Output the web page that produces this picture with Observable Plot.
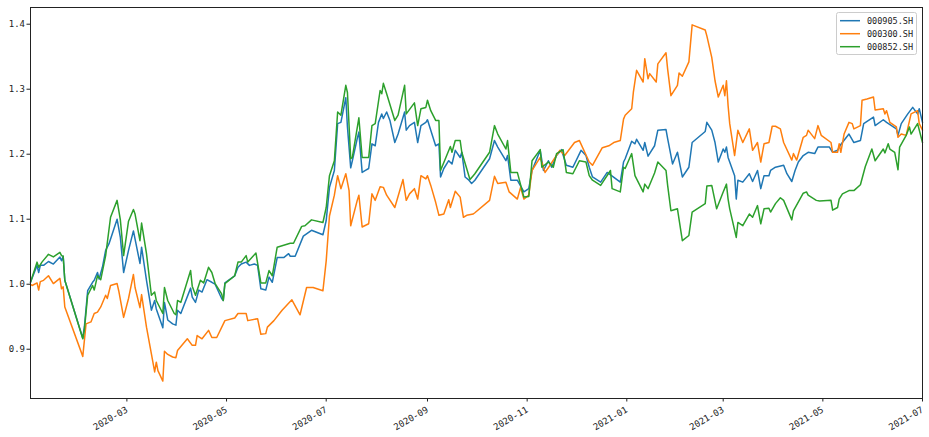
<!DOCTYPE html>
<html><head><meta charset="utf-8">
<script src="https://cdn.jsdelivr.net/npm/d3@7"></script>
<script src="https://cdn.jsdelivr.net/npm/@observablehq/plot@0.6"></script>
<style>
body{margin:0;background:#fff;}
#chart{position:relative;width:929px;height:437px;}
</style></head><body><div id="chart"></div>
<script>
const seriesNames = ["000905.SH", "000300.SH", "000852.SH"];
const seriesColors = ["#1f77b4", "#ff7f0e", "#2ca02c"];
const yTicks = [0.9, 1.0, 1.1, 1.2, 1.3, 1.4];
const xTickDates = ["2020-03-01","2020-05-01","2020-07-01","2020-09-01","2020-11-01","2021-01-01","2021-03-01","2021-05-01","2021-07-01"];
const xStart = "2020-01-02", xEnd = "2021-07-01";

const dates905 = [
"2020-01-02","2020-01-06","2020-01-07","2020-01-08","2020-01-10","2020-01-13","2020-01-16","2020-01-20","2020-01-21","2020-01-22","2020-01-23",
"2020-02-03","2020-02-04","2020-02-06","2020-02-09","2020-02-10","2020-02-12","2020-02-13","2020-02-15","2020-02-17","2020-02-19","2020-02-24","2020-02-26","2020-02-28",
"2020-03-02","2020-03-05","2020-03-09","2020-03-10","2020-03-13","2020-03-16","2020-03-18","2020-03-19","2020-03-23","2020-03-24","2020-03-26","2020-03-29","2020-03-31",
"2020-04-01","2020-04-03","2020-04-09","2020-04-10","2020-04-12","2020-04-14","2020-04-16","2020-04-19","2020-04-22","2020-04-24","2020-04-28","2020-04-29","2020-04-30",
"2020-05-06","2020-05-08","2020-05-10","2020-05-13","2020-05-15","2020-05-18","2020-05-20","2020-05-22","2020-05-25","2020-05-27","2020-05-29",
"2020-06-01","2020-06-05","2020-06-08","2020-06-09","2020-06-12","2020-06-17","2020-06-22","2020-06-29",
"2020-07-01","2020-07-03","2020-07-06","2020-07-08","2020-07-10","2020-07-13","2020-07-14","2020-07-16","2020-07-17","2020-07-20","2020-07-21","2020-07-23","2020-07-25","2020-07-27","2020-07-29","2020-07-31",
"2020-08-02","2020-08-04","2020-08-05","2020-08-07","2020-08-09","2020-08-12","2020-08-14","2020-08-18","2020-08-19","2020-08-21","2020-08-24","2020-08-26","2020-08-28","2020-08-31",
"2020-09-01","2020-09-03","2020-09-06","2020-09-08","2020-09-09","2020-09-11","2020-09-14","2020-09-16","2020-09-18","2020-09-21","2020-09-22","2020-09-24","2020-09-26","2020-09-28","2020-09-30",
"2020-10-09","2020-10-12","2020-10-14","2020-10-19","2020-10-20","2020-10-22","2020-10-26","2020-10-30",
"2020-11-02","2020-11-04","2020-11-09","2020-11-11","2020-11-14","2020-11-16","2020-11-19","2020-11-22","2020-11-25","2020-11-29",
"2020-12-04","2020-12-07","2020-12-09","2020-12-11","2020-12-16","2020-12-20","2020-12-28","2020-12-30","2020-12-31",
"2021-01-04","2021-01-06","2021-01-07","2021-01-11","2021-01-12","2021-01-14","2021-01-18","2021-01-20","2021-01-25","2021-01-26","2021-01-29",
"2021-02-01","2021-02-04","2021-02-08","2021-02-10","2021-02-18","2021-02-19","2021-02-22","2021-02-24","2021-02-26",
"2021-03-01","2021-03-02","2021-03-03","2021-03-04","2021-03-08","2021-03-09","2021-03-10","2021-03-13","2021-03-17","2021-03-19","2021-03-22","2021-03-24","2021-03-26","2021-03-29","2021-03-30",
"2021-04-02","2021-04-07","2021-04-09","2021-04-12","2021-04-14","2021-04-16","2021-04-19","2021-04-22","2021-04-26","2021-04-28",
"2021-05-05","2021-05-07","2021-05-10","2021-05-12","2021-05-17","2021-05-20","2021-05-24","2021-05-26",
"2021-06-01","2021-06-02","2021-06-07","2021-06-09","2021-06-15","2021-06-16","2021-06-18","2021-06-22","2021-06-25","2021-06-28","2021-06-29","2021-07-01"];
const values905 = [
1.003,1.029,1.018,1.029,1.029,1.035,1.031,1.042,1.036,1.043,1.006,
0.917,0.935,0.990,1.003,1.006,1.018,1.008,1.026,1.052,1.062,1.100,1.072,1.018,
1.052,1.082,1.032,1.057,1.006,0.960,0.975,0.962,0.933,0.972,0.945,0.939,0.937,
0.960,0.955,0.994,0.980,0.972,0.991,0.988,1.007,1.003,1.000,0.978,0.975,1.002,
1.013,1.026,1.031,1.034,1.029,1.031,1.029,0.993,0.991,1.011,1.003,
1.041,1.041,1.047,1.043,1.043,1.074,1.083,1.076,
1.098,1.149,1.175,1.247,1.249,1.287,1.242,1.179,1.190,1.224,1.234,1.172,1.175,1.178,1.216,1.213,
1.249,1.262,1.255,1.265,1.252,1.218,1.231,1.265,1.237,1.244,1.249,1.218,1.244,1.249,
1.253,1.237,1.213,1.216,1.165,1.178,1.190,1.185,1.206,1.195,1.203,1.165,1.161,1.155,1.160,
1.193,1.221,1.211,1.190,1.198,1.160,1.160,1.142,
1.147,1.175,1.206,1.175,1.190,1.180,1.198,1.207,1.183,1.180,
1.206,1.198,1.180,1.165,1.157,1.172,1.157,1.188,1.193,
1.220,1.216,1.223,1.206,1.218,1.197,1.213,1.237,1.238,1.224,1.185,
1.203,1.165,1.180,1.218,1.235,1.249,1.237,1.218,1.188,
1.208,1.203,1.211,1.195,1.167,1.131,1.160,1.157,1.170,1.158,1.175,1.147,1.167,1.167,1.175,
1.180,1.183,1.170,1.158,1.175,1.188,1.198,1.203,1.201,1.211,
1.211,1.203,1.206,1.215,1.231,1.218,1.221,1.247,
1.257,1.244,1.253,1.249,1.239,1.229,1.247,1.262,1.272,1.262,1.270,1.249];

const dates300 = [
"2020-01-02","2020-01-03","2020-01-06","2020-01-07","2020-01-08","2020-01-10","2020-01-13","2020-01-16","2020-01-20","2020-01-21","2020-01-22","2020-01-23",
"2020-02-03","2020-02-05","2020-02-08","2020-02-10","2020-02-12","2020-02-14","2020-02-17","2020-02-18","2020-02-20","2020-02-24","2020-02-25","2020-02-28",
"2020-03-02","2020-03-05","2020-03-06","2020-03-09","2020-03-10","2020-03-13","2020-03-16","2020-03-18","2020-03-19","2020-03-20","2020-03-23","2020-03-24","2020-03-26","2020-03-29","2020-03-31",
"2020-04-01","2020-04-07","2020-04-10","2020-04-12","2020-04-13","2020-04-16","2020-04-20","2020-04-22","2020-04-25","2020-04-30",
"2020-05-06","2020-05-08","2020-05-13","2020-05-14","2020-05-20","2020-05-22","2020-05-25","2020-05-26","2020-05-30",
"2020-06-04","2020-06-10","2020-06-15","2020-06-19","2020-06-23","2020-06-29",
"2020-07-01","2020-07-03","2020-07-06","2020-07-08","2020-07-10","2020-07-13","2020-07-15","2020-07-16","2020-07-20","2020-07-21","2020-07-23","2020-07-27","2020-07-29","2020-07-31",
"2020-08-03","2020-08-05","2020-08-07","2020-08-12","2020-08-17","2020-08-19","2020-08-21","2020-08-24","2020-08-26","2020-08-28","2020-08-31",
"2020-09-01","2020-09-03","2020-09-06","2020-09-08","2020-09-11","2020-09-14","2020-09-15","2020-09-18","2020-09-21","2020-09-23","2020-09-25","2020-09-29","2020-09-30",
"2020-10-09","2020-10-12","2020-10-14","2020-10-19","2020-10-21","2020-10-26","2020-10-28","2020-10-30",
"2020-11-02","2020-11-04","2020-11-09","2020-11-12","2020-11-15","2020-11-21","2020-11-24","2020-11-30",
"2020-12-03","2020-12-09","2020-12-11","2020-12-17","2020-12-21","2020-12-24","2020-12-28","2020-12-30","2020-12-31",
"2021-01-04","2021-01-05","2021-01-07","2021-01-11","2021-01-12","2021-01-14","2021-01-15","2021-01-19","2021-01-20","2021-01-25","2021-01-26","2021-01-28",
"2021-02-01","2021-02-02","2021-02-04","2021-02-08","2021-02-10","2021-02-18","2021-02-19","2021-02-22","2021-02-24","2021-02-26",
"2021-03-01","2021-03-02","2021-03-03","2021-03-04","2021-03-05","2021-03-08","2021-03-10","2021-03-13","2021-03-17","2021-03-19","2021-03-22","2021-03-24","2021-03-26","2021-03-29","2021-03-31",
"2021-04-02","2021-04-05","2021-04-07","2021-04-12","2021-04-13","2021-04-15","2021-04-19","2021-04-21","2021-04-22","2021-04-26","2021-04-28","2021-04-30",
"2021-05-06","2021-05-07","2021-05-10","2021-05-11","2021-05-12","2021-05-14","2021-05-17","2021-05-19","2021-05-20","2021-05-24","2021-05-25","2021-05-28",
"2021-06-01","2021-06-02","2021-06-07","2021-06-08","2021-06-09","2021-06-11","2021-06-15","2021-06-16","2021-06-18","2021-06-21","2021-06-24","2021-06-28","2021-06-29","2021-07-01"];
const values300 = [
1.000,0.998,1.002,0.991,1.004,1.006,1.013,1.001,1.009,0.993,0.996,0.965,
0.889,0.939,0.942,0.955,0.957,0.965,0.983,0.978,0.998,1.001,0.990,0.949,
0.978,1.015,0.995,0.964,0.984,0.934,0.893,0.865,0.880,0.867,0.851,0.897,0.892,0.888,0.887,
0.898,0.916,0.906,0.906,0.921,0.916,0.929,0.918,0.918,0.944,
0.948,0.955,0.955,0.944,0.947,0.923,0.924,0.934,0.944,
0.960,0.976,0.953,0.995,0.995,0.990,
1.036,1.105,1.137,1.167,1.147,1.170,1.144,1.090,1.129,1.137,1.088,1.093,1.139,1.129,
1.150,1.149,1.137,1.118,1.161,1.129,1.139,1.147,1.131,1.167,1.162,
1.167,1.152,1.126,1.106,1.108,1.130,1.118,1.143,1.134,1.103,1.106,1.108,1.110,
1.129,1.166,1.155,1.157,1.142,1.131,1.149,1.131,
1.137,1.175,1.195,1.172,1.183,1.206,1.198,1.218,
1.221,1.188,1.183,1.210,1.213,1.218,1.221,1.254,1.260,
1.270,1.295,1.329,1.311,1.347,1.316,1.324,1.311,1.339,1.356,1.331,1.290,
1.306,1.325,1.320,1.342,1.399,1.391,1.382,1.349,1.313,1.288,
1.306,1.290,1.313,1.275,1.247,1.198,1.237,1.218,1.239,1.206,1.218,1.188,1.216,1.218,1.243,
1.243,1.239,1.218,1.191,1.201,1.191,1.226,1.229,1.237,1.224,1.244,1.229,
1.218,1.203,1.203,1.216,1.203,1.231,1.249,1.247,1.239,1.244,1.283,1.285,
1.288,1.268,1.270,1.262,1.267,1.249,1.242,1.226,1.231,1.229,1.262,1.267,1.247,1.237];

const dates852 = [
"2020-01-02","2020-01-06","2020-01-07","2020-01-09","2020-01-13","2020-01-16","2020-01-20","2020-01-21","2020-01-22","2020-01-23",
"2020-02-03","2020-02-04","2020-02-06","2020-02-09","2020-02-10","2020-02-12","2020-02-14","2020-02-17","2020-02-20","2020-02-24","2020-02-26","2020-02-28",
"2020-03-02","2020-03-05","2020-03-06","2020-03-09","2020-03-10","2020-03-13","2020-03-16","2020-03-18","2020-03-19","2020-03-23","2020-03-24","2020-03-26","2020-03-30","2020-03-31",
"2020-04-01","2020-04-03","2020-04-09","2020-04-10","2020-04-12","2020-04-15","2020-04-17","2020-04-20","2020-04-22","2020-04-24","2020-04-28","2020-04-29","2020-04-30",
"2020-05-06","2020-05-08","2020-05-10","2020-05-13","2020-05-14","2020-05-19","2020-05-22","2020-05-25","2020-05-27","2020-05-29",
"2020-06-01","2020-06-05","2020-06-09","2020-06-11","2020-06-16","2020-06-18","2020-06-22","2020-06-29",
"2020-07-01","2020-07-03","2020-07-06","2020-07-08","2020-07-10","2020-07-13","2020-07-14","2020-07-16","2020-07-17","2020-07-21","2020-07-23","2020-07-27","2020-07-29","2020-07-31",
"2020-08-03","2020-08-04","2020-08-05","2020-08-07","2020-08-12","2020-08-14","2020-08-18","2020-08-19","2020-08-24","2020-08-26","2020-08-28","2020-08-31",
"2020-09-01","2020-09-03","2020-09-06","2020-09-08","2020-09-09","2020-09-15","2020-09-16","2020-09-18","2020-09-21","2020-09-22","2020-09-27","2020-09-29","2020-09-30",
"2020-10-09","2020-10-12","2020-10-14","2020-10-19","2020-10-20","2020-10-22","2020-10-26","2020-10-30",
"2020-11-02","2020-11-04","2020-11-09","2020-11-10","2020-11-14","2020-11-17","2020-11-19","2020-11-23","2020-11-25","2020-11-29",
"2020-12-03","2020-12-07","2020-12-09","2020-12-11","2020-12-16","2020-12-22","2020-12-23","2020-12-28","2020-12-30","2020-12-31",
"2021-01-04","2021-01-06","2021-01-11","2021-01-12","2021-01-14","2021-01-18","2021-01-20","2021-01-25","2021-01-26","2021-01-28",
"2021-02-01","2021-02-04","2021-02-08","2021-02-10","2021-02-18","2021-02-19","2021-02-22","2021-02-25",
"2021-03-01","2021-03-03","2021-03-04","2021-03-05","2021-03-09","2021-03-10","2021-03-13","2021-03-17","2021-03-19","2021-03-22","2021-03-24","2021-03-26","2021-03-29","2021-03-30",
"2021-04-02","2021-04-05","2021-04-07","2021-04-12","2021-04-13","2021-04-19","2021-04-21","2021-04-22","2021-04-27","2021-04-29",
"2021-05-06","2021-05-07","2021-05-10","2021-05-11","2021-05-13","2021-05-17","2021-05-20","2021-05-24","2021-05-27","2021-05-31",
"2021-06-02","2021-06-07","2021-06-08","2021-06-10","2021-06-11","2021-06-14","2021-06-16","2021-06-17","2021-06-21","2021-06-23","2021-06-24","2021-06-28","2021-07-01"];
const values852 = [
1.003,1.034,1.026,1.034,1.046,1.042,1.049,1.044,1.043,1.006,
0.916,0.930,0.983,0.998,0.991,1.013,1.007,1.044,1.103,1.129,1.099,1.044,
1.097,1.115,1.108,1.067,1.094,1.047,0.983,0.988,0.975,0.955,0.995,0.975,0.955,0.953,
0.975,0.972,1.021,0.997,0.983,1.006,1.002,1.026,1.018,1.001,0.985,0.975,1.001,
1.013,1.034,1.034,1.044,1.034,1.048,1.002,1.002,1.021,1.013,
1.057,1.060,1.063,1.063,1.089,1.090,1.099,1.095,
1.118,1.167,1.190,1.265,1.260,1.306,1.295,1.193,1.195,1.256,1.195,1.195,1.244,1.247,
1.298,1.293,1.309,1.293,1.252,1.260,1.306,1.262,1.279,1.244,1.270,1.272,
1.283,1.267,1.252,1.252,1.175,1.212,1.203,1.221,1.221,1.203,1.161,1.167,1.170,
1.203,1.244,1.231,1.208,1.221,1.172,1.172,1.134,
1.135,1.190,1.207,1.180,1.188,1.180,1.201,1.207,1.172,1.170,
1.190,1.188,1.167,1.160,1.152,1.175,1.147,1.142,1.180,1.178,
1.201,1.167,1.142,1.154,1.147,1.171,1.188,1.175,1.152,1.113,
1.116,1.067,1.075,1.111,1.124,1.151,1.152,1.116,
1.142,1.154,1.131,1.116,1.072,1.095,1.090,1.108,1.103,1.121,1.093,1.116,1.117,1.111,
1.124,1.133,1.129,1.099,1.113,1.140,1.142,1.137,1.129,1.128,
1.129,1.114,1.118,1.131,1.139,1.144,1.144,1.153,1.181,1.208,
1.190,1.208,1.202,1.216,1.208,1.203,1.176,1.211,1.229,1.242,1.231,1.247,1.218];

const parse = d3.utcParse("%Y-%m-%d");
const seriesDates = [dates905, dates300, dates852];
const seriesValues = [values905, values300, values852];
const rows = [];
seriesNames.forEach((name, i) => {
  const ds = seriesDates[i], vs = seriesValues[i];
  const n = Math.min(ds.length, vs.length);
  if (ds.length !== vs.length) console.warn(name, ds.length, vs.length);
  for (let k = 0; k < n; k++) rows.push({series: name, date: parse(ds[k]), value: vs[k]});
});

const font = "'DejaVu Sans Mono', monospace";
const xTicks = xTickDates.map(parse);
const plot = Plot.plot({
  width: 929, height: 437,
  marginLeft: 30, marginRight: 7, marginTop: 7, marginBottom: 39,
  style: {fontFamily: font, fontSize: "9px", color: "#222", background: "#fff"},
  x: {type: "utc", domain: [parse(xStart), parse(xEnd)], label: null},
  y: {domain: [0.8242, 1.4257], label: null},
  color: {domain: seriesNames, range: seriesColors},
  marks: [
    Plot.line(rows, {x: "date", y: "value", z: "series", stroke: "series", strokeWidth: 1.5, curve: "linear"}),
    Plot.axisX({ticks: xTicks, tickFormat: d3.utcFormat("%Y-%m"), tickRotate: -30, tickSize: 3.5, tickPadding: 7, label: null}),
    Plot.axisY({ticks: yTicks, tickFormat: d => d.toFixed(1), tickSize: 3.5, tickPadding: 2, label: null}),
    Plot.frame({stroke: "#222", strokeWidth: 1})
  ]
});
document.getElementById("chart").appendChild(plot);

// legend inside top-right corner
const svg = d3.select(plot);
const lg = svg.append("g").attr("font-family", font).attr("font-size", "8.5px").attr("text-anchor", "start");
lg.append("rect").attr("x", 836.5).attr("y", 12.5).attr("width", 80).attr("height", 42)
  .attr("rx", 2).attr("fill", "#fff").attr("fill-opacity", 0.8).attr("stroke", "#ccc");
seriesNames.forEach((name, i) => {
  const y = 20.7 + i * 13;
  lg.append("line").attr("x1", 840).attr("x2", 860).attr("y1", y).attr("y2", y)
    .attr("stroke", seriesColors[i]).attr("stroke-width", 1.5);
  lg.append("text").attr("x", 867).attr("y", y).attr("dy", "0.35em").attr("text-anchor", "start")
    .attr("fill", "#222").text(name);
});
</script></body></html>
